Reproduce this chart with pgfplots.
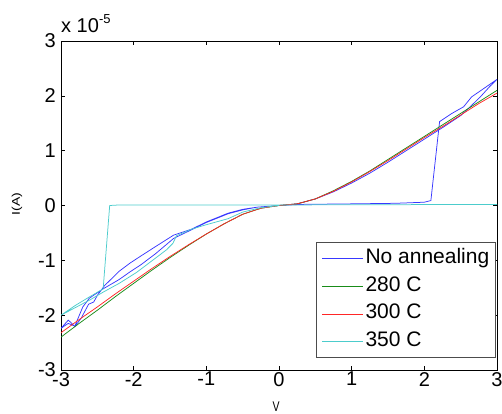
\documentclass[border=0pt]{standalone}
\usepackage{pgfplots}
\pgfplotsset{compat=1.18}
\usepackage{fontspec}
\setmainfont{Liberation Sans}
\definecolor{mblue}{rgb}{0.22,0.22,1}
\definecolor{mgreen}{rgb}{0.1,0.55,0.1}
\definecolor{mred}{rgb}{1,0.15,0.15}
\definecolor{mcyan}{rgb}{0.3,0.8,0.8}
\begin{document}
\begin{tikzpicture}[x=1pt,y=1pt]
\useasboundingbox (0,0) rectangle (502,413);
\begin{axis}[
  at={(61pt,43pt)}, anchor=south west,
  scale only axis, width=436pt, height=329pt,
  xmin=-3, xmax=3, ymin=-3, ymax=3,
  xtick={-3,-2,-1,0,1,2,3}, ytick={-3,-2,-1,0,1,2,3},
  tick align=inside, major tick length=4pt,
  axis line style={line width=0.8pt},
  every tick/.style={black, line width=0.6pt},
  /pgf/number format/assume math mode=true,
  ticklabel style={font=\fontsize{20}{22}\selectfont},
  xticklabel style={inner sep=2pt},
  yticklabel style={inner sep=0pt, xshift=-5pt},
  legend cell align=left,
  legend image code/.code={\draw[#1] (0pt,0pt) -- (41pt,0pt);},
  legend style={at={(rel axis cs:0.997,0.0365)}, anchor=south east,
    draw=black!70, line width=0.8pt, fill=white,
    font=\fontsize{21}{25}\selectfont,
    inner xsep=5pt, inner ysep=4pt, row sep=3.7pt, column sep=1pt,
    nodes={inner xsep=1pt, inner ysep=2pt, text height=15pt, text depth=5pt}},
]
\addplot[mblue, line width=0.75pt] coordinates {
(0,0) (0.3,0.02) (1.0,0.03) (1.6,0.04) (2.0,0.06) (2.09,0.09) (2.21,1.53) (2.38,1.68) (2.54,1.80) (2.65,1.98) (2.77,2.09) (3.0,2.30)
(2.9,2.17) (2.77,1.98) (2.63,1.80) (2.5,1.64) (2.25,1.42) (2,1.21) (1.75,1.0) (1.5,0.79) (1.25,0.59) (1,0.41) (0.75,0.25) (0.5,0.12) (0.25,0.03) (0,0)
(-0.3,-0.03) (-0.5,-0.07) (-0.7,-0.14) (-1.0,-0.3) (-1.2,-0.43) (-1.45,-0.54) (-1.7,-0.75) (-1.9,-0.92) (-2.05,-1.05) (-2.2,-1.2) (-2.4,-1.46) (-2.5,-1.64) (-2.55,-1.76) (-2.62,-1.8) (-2.72,-2.05) (-2.81,-2.21) (-2.86,-2.14) (-2.9,-2.09) (-3,-2.24)
(-2.9,-2.15) (-2.81,-2.2) (-2.7,-1.85) (-2.61,-1.69) (-2.42,-1.52) (-2.2,-1.35) (-2.05,-1.21) (-1.9,-1.08) (-1.7,-0.88) (-1.45,-0.6) (-1.2,-0.44) (-1,-0.31) (-0.7,-0.15) (-0.5,-0.08) (-0.3,-0.03) (0,0)
};
\addlegendentry{No annealing\hspace{21pt}}
\addplot[mgreen, line width=0.75pt] coordinates {
(-3,-2.4) (-2.75,-2.15) (-2.5,-1.91) (-2.25,-1.66) (-2,-1.42) (-1.75,-1.18) (-1.5,-0.95) (-1.25,-0.73) (-1,-0.52) (-0.75,-0.33) (-0.5,-0.16) (-0.25,-0.05) (0,0)
(0.25,0.03) (0.5,0.12) (0.75,0.27) (1,0.44) (1.25,0.63) (1.5,0.84) (1.75,1.05) (2,1.26) (2.25,1.47) (2.5,1.68) (2.75,1.89) (3,2.1)
};
\addlegendentry{280 C}
\addplot[mred, line width=0.75pt] coordinates {
(-3,-2.32) (-2.75,-2.08) (-2.5,-1.85) (-2.25,-1.61) (-2,-1.38) (-1.75,-1.15) (-1.5,-0.93) (-1.25,-0.72) (-1,-0.52) (-0.75,-0.33) (-0.5,-0.16) (-0.25,-0.05) (0,0)
(0.25,0.03) (0.5,0.12) (0.75,0.26) (1,0.43) (1.25,0.62) (1.5,0.82) (1.75,1.03) (2,1.24) (2.25,1.44) (2.5,1.65) (2.75,1.86) (3,2.05)
};
\addlegendentry{300 C}
\addplot[mcyan, line width=0.75pt] coordinates {
(3,0.02) (0,0.01) (-2.2,0.01) (-2.33,0.0) (-2.42,-1.52) (-2.6,-1.66) (-2.8,-1.82) (-3,-2.0)
(-2.8,-1.86) (-2.6,-1.72) (-2.42,-1.58) (-2.2,-1.42) (-1.96,-1.22) (-1.55,-0.81) (-1.46,-0.69) (-1.41,-0.55) (-1.2,-0.43) (-1.0,-0.35) (-0.7,-0.24) (-0.5,-0.12) (-0.25,-0.04) (0,0)
};
\addlegendentry{350 C}
\end{axis}
\node[anchor=base west, inner sep=0pt] at (61,380) {\fontsize{20}{22}\selectfont x 10\raisebox{9pt}{\fontsize{13}{15}\selectfont -5}};
\node[anchor=base, inner sep=0pt] at (276,1.5) {\fontsize{14}{16}\selectfont\scalebox{0.75}[1]{V}};
\node[rotate=90, inner sep=0pt] at (17,209) {\fontsize{14}{16}\selectfont\scalebox{1}[0.8]{I(A)}};
\end{tikzpicture}
\end{document}
